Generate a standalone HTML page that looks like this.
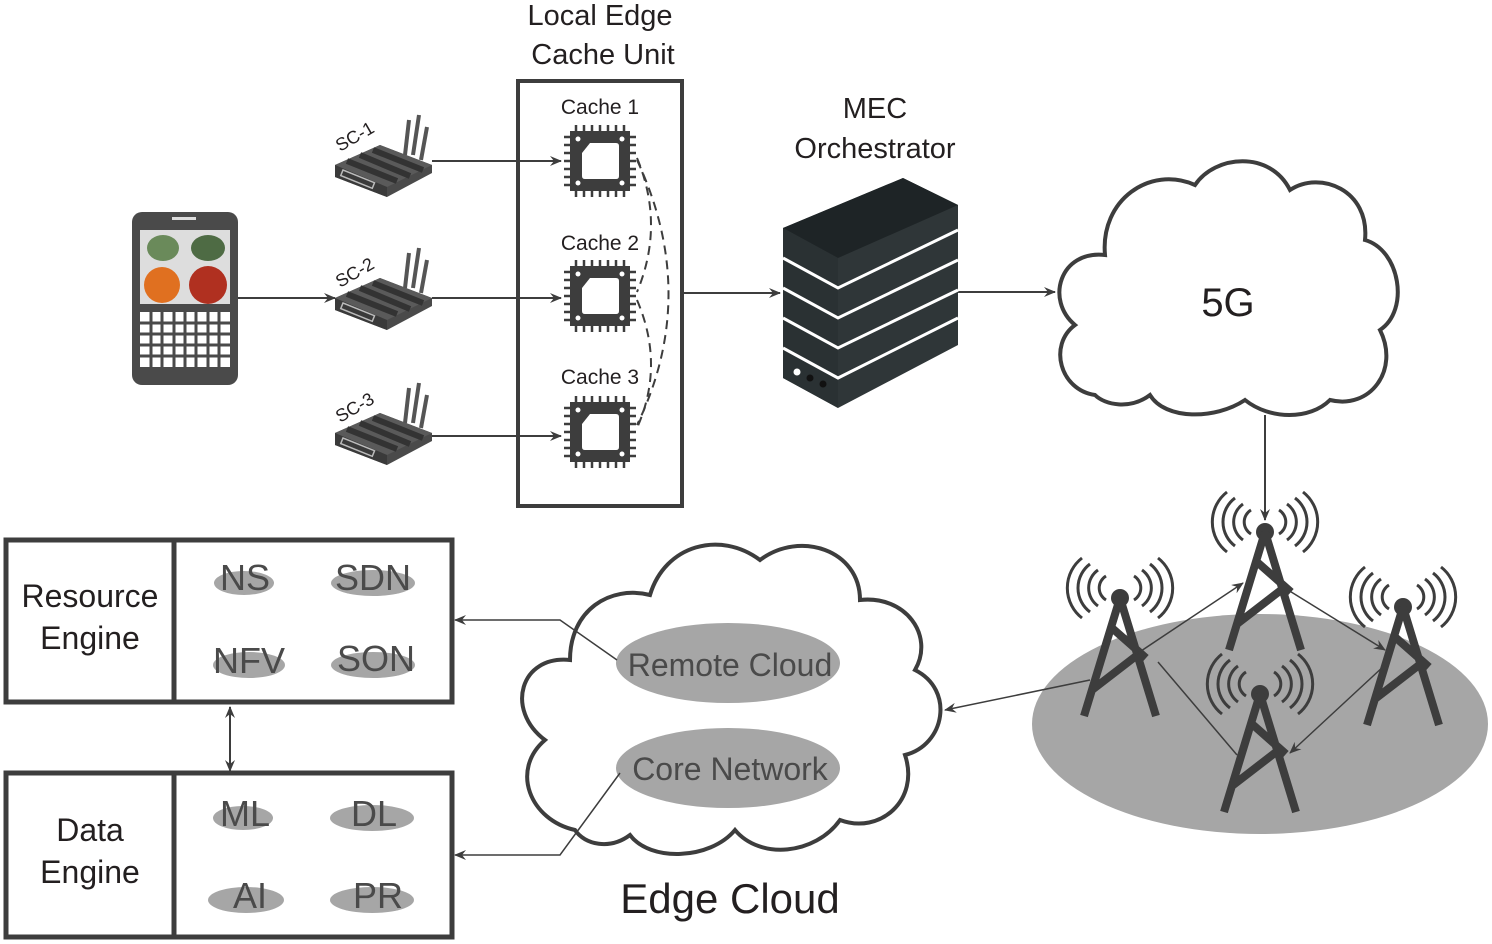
<!DOCTYPE html>
<html><head><style>body{margin:0;background:#fff}svg{display:block}text{font-family:"Liberation Sans",sans-serif;fill:#231f20}</style></head><body>
<svg width="1492" height="944" viewBox="0 0 1492 944" xmlns="http://www.w3.org/2000/svg">
<defs>
<marker id="a" markerWidth="12" markerHeight="10" refX="11" refY="5" orient="auto" markerUnits="userSpaceOnUse"><path d="M0,0 L12,5 L0,10 L4,5Z" fill="#3d3d3d"/></marker>
<marker id="as" markerWidth="12" markerHeight="10" refX="1" refY="5" orient="auto" markerUnits="userSpaceOnUse"><path d="M12,0 L0,5 L12,10 L8,5Z" fill="#3d3d3d"/></marker>
<g id="router">
<line x1="70" y1="40" x2="74" y2="5" stroke="#555" stroke-width="4"/><line x1="78" y1="40" x2="84" y2="0" stroke="#555" stroke-width="4"/><line x1="86" y1="45" x2="92" y2="12" stroke="#555" stroke-width="4"/>
<path d="M0,50 L45,30 L97,50 L97,58 L52,82 L0,62Z" fill="#4a4a4a"/>
<path d="M0,50 L52,72 L97,50 L45,30Z" fill="#5a5a5a"/>
<path d="M12,46 L62,66 M25,40 L75,61 M38,35 L88,55" stroke="#333" stroke-width="6"/>
<path d="M0,50 L52,72 L52,82 L0,62Z" fill="#3a3a3a"/>
<rect x="8" y="55" width="34" height="6" fill="none" stroke="#bbb" stroke-width="1.5" transform="rotate(22 8 55)"/>
</g>
<g id="chip">
<path d="M-36,-24 H36 M-36,-16 H36 M-36,-8 H36 M-36,0 H36 M-36,8 H36 M-36,16 H36 M-36,24 H36 M-24,-36 V36 M-16,-36 V36 M-8,-36 V36 M0,-36 V36 M8,-36 V36 M16,-36 V36 M24,-36 V36" stroke="#3d3d3d" stroke-width="2.5"/>
<rect x="-30" y="-30" width="60" height="60" fill="#3d3d3d"/>
<path d="M-10,-18 H16 Q19,-18 19,-15 V15 Q19,18 16,18 H-15 Q-18,18 -18,15 V-8Z" fill="#fff"/>
<circle cx="-22" cy="-22" r="2.5" fill="#fff"/><circle cx="22" cy="-22" r="2.5" fill="#fff"/><circle cx="-22" cy="22" r="2.5" fill="#fff"/><circle cx="22" cy="22" r="2.5" fill="#fff"/>
</g>
<g id="tower">
<circle cx="0" cy="0" r="9" fill="#3d3d3d"/>
<path d="M0,0 L-36,118 M0,0 L36,118 M-8,30 L26,60 M20,55 L-28,92" stroke="#3d3d3d" stroke-width="8" fill="none"/>
<path d="M-14,-12 A14,14 0 0 0 -14,12 M14,-12 A14,14 0 0 1 14,12 M-22,-18 A22,22 0 0 0 -22,18 M22,-18 A22,22 0 0 1 22,18 M-30,-24 A30,30 0 0 0 -30,24 M30,-24 A30,30 0 0 1 30,24 M-38,-30 A38,38 0 0 0 -38,30 M38,-30 A38,38 0 0 1 38,30" stroke="#3d3d3d" stroke-width="3" fill="none" transform="translate(0,-10)"/>
</g>
</defs>

<rect x="132" y="212" width="106" height="173" rx="10" fill="#4a4a4a"/>
<rect x="172" y="217" width="24" height="3" fill="#ddd"/>
<rect x="140" y="230" width="90" height="74" fill="#ddd"/>
<ellipse cx="163" cy="248" rx="16" ry="13" fill="#6a8a5a"/><ellipse cx="208" cy="248" rx="17" ry="13" fill="#4e6b44"/>
<circle cx="162" cy="285" r="18" fill="#e07020"/><circle cx="208" cy="285" r="19" fill="#b03020"/>
<rect x="140" y="312" width="90" height="55" fill="#fff"/>
<path d="M140,323 H230 M140,334 H230 M140,345 H230 M140,356 H230 M151,312 V367 M162,312 V367 M174,312 V367 M185,312 V367 M196,312 V367 M208,312 V367 M219,312 V367" stroke="#4a4a4a" stroke-width="3"/>

<use href="#router" x="335" y="115"/><use href="#router" x="335" y="248"/><use href="#router" x="335" y="383"/>
<text x="340" y="152" font-size="18" transform="rotate(-30 340 152)">SC-1</text>
<text x="340" y="288" font-size="18" transform="rotate(-30 340 288)">SC-2</text>
<text x="340" y="423" font-size="18" transform="rotate(-30 340 423)">SC-3</text>

<g stroke="#3d3d3d" stroke-width="2" fill="none">
<line x1="238" y1="298" x2="335" y2="298" marker-end="url(#a)"/>
<line x1="432" y1="161" x2="561" y2="161" marker-end="url(#a)"/>
<line x1="432" y1="298" x2="561" y2="298" marker-end="url(#a)"/>
<line x1="432" y1="436" x2="561" y2="436" marker-end="url(#a)"/>
<line x1="683" y1="293" x2="780" y2="293" marker-end="url(#a)"/>
<line x1="958" y1="292" x2="1055" y2="292" marker-end="url(#a)"/>
<line x1="1265" y1="415" x2="1265" y2="520" marker-end="url(#a)"/>
</g>

<rect x="518" y="81" width="164" height="425" fill="none" stroke="#3d3d3d" stroke-width="4"/>
<text x="600" y="25" font-size="29" text-anchor="middle">Local Edge</text>
<text x="603" y="64" font-size="29" text-anchor="middle">Cache Unit</text>
<text x="600" y="114" font-size="21" text-anchor="middle">Cache 1</text>
<text x="600" y="250" font-size="21" text-anchor="middle">Cache 2</text>
<text x="600" y="384" font-size="21" text-anchor="middle">Cache 3</text>
<use href="#chip" x="600" y="161"/><use href="#chip" x="600" y="296"/><use href="#chip" x="600" y="432"/>
<g stroke="#3d3d3d" stroke-width="2" fill="none" stroke-dasharray="9,6">
<path d="M637,158 Q665,225 637,292"/><path d="M637,300 Q665,365 637,428"/><path d="M637,160 Q700,295 637,425"/>
</g>

<text x="875" y="118" font-size="29" text-anchor="middle">MEC</text>
<text x="875" y="158" font-size="29" text-anchor="middle">Orchestrator</text>
<path d="M783,228 L903,178 L958,205 L958,345 L838,408 L783,378Z" fill="#2f3638"/>
<path d="M783,228 L903,178 L958,205 L838,258Z" fill="#1e2426"/>
<path d="M783,228 L838,258 L838,408 L783,378Z" fill="#2a3133"/>
<g stroke="#fff" stroke-width="3" fill="none">
<path d="M783,258 L838,288 L958,230"/><path d="M783,288 L838,318 L958,260"/><path d="M783,318 L838,348 L958,290"/><path d="M783,348 L838,378 L958,318"/>
</g>
<circle cx="797" cy="372" r="3.5" fill="#fff"/><circle cx="810" cy="378" r="3.5" fill="#111"/><circle cx="823" cy="384" r="3.5" fill="#111"/>

<path d="M1095,395 C1060,390 1048,345 1075,325 C1045,300 1060,250 1105,255 C1100,200 1150,165 1195,185 C1215,155 1270,150 1290,190 C1320,170 1370,190 1365,240 C1400,250 1410,310 1380,330 C1400,370 1370,410 1330,400 C1310,420 1270,420 1245,400 C1215,420 1165,420 1150,395 C1130,410 1105,405 1095,395Z" fill="#fff" stroke="#3d3d3d" stroke-width="4"/>
<text x="1228" y="316" font-size="40" text-anchor="middle">5G</text>

<ellipse cx="1260" cy="724" rx="228" ry="110" fill="#a6a6a6"/>
<use href="#tower" x="1265" y="532"/><use href="#tower" x="1120" y="598"/><use href="#tower" x="1403" y="607"/><use href="#tower" x="1260" y="694"/>
<g stroke="#3d3d3d" stroke-width="1.5" fill="none">
<line x1="1135" y1="655" x2="1243" y2="583" marker-end="url(#a)"/>
<line x1="1288" y1="590" x2="1385" y2="650" marker-end="url(#a)"/>
<line x1="1385" y1="665" x2="1290" y2="753" marker-end="url(#a)"/>
<line x1="1237" y1="755" x2="1158" y2="662"/>
<line x1="1090" y1="680" x2="945" y2="710" marker-end="url(#a)"/>
</g>

<path d="M575,830 C530,820 510,770 545,740 C505,710 520,655 570,660 C570,610 610,585 650,595 C665,545 720,530 760,560 C800,530 860,550 860,600 C905,595 935,635 915,670 C955,690 945,745 905,755 C920,800 880,835 840,820 C815,855 760,860 735,830 C710,860 650,862 630,835 C610,850 585,845 575,830Z" fill="#fff" stroke="#3d3d3d" stroke-width="4"/>
<ellipse cx="728" cy="663" rx="112" ry="40" fill="#a6a6a6"/>
<ellipse cx="728" cy="768" rx="112" ry="40" fill="#a6a6a6"/>
<text x="730" y="676" font-size="32" text-anchor="middle" style="fill:#4a4a4a">Remote Cloud</text>
<text x="730" y="780" font-size="32" text-anchor="middle" style="fill:#4a4a4a">Core Network</text>
<text x="730" y="913" font-size="42" text-anchor="middle">Edge Cloud</text>
<g stroke="#3d3d3d" stroke-width="1.5" fill="none">
<polyline points="617,660 560,620 455,620" marker-end="url(#a)"/>
<polyline points="620,773 560,855 455,855" marker-end="url(#a)"/>
<line x1="230" y1="707" x2="230" y2="771" marker-start="url(#as)" marker-end="url(#a)" stroke-width="2"/>
</g>

<g fill="none" stroke="#3d3d3d" stroke-width="5">
<rect x="6" y="540" width="446" height="162"/><line x1="174" y1="540" x2="174" y2="702"/>
<rect x="6" y="773" width="446" height="164"/><line x1="174" y1="773" x2="174" y2="937"/>
</g>
<text x="90" y="607" font-size="32" text-anchor="middle">Resource</text>
<text x="90" y="649" font-size="32" text-anchor="middle">Engine</text>
<text x="90" y="841" font-size="32" text-anchor="middle">Data</text>
<text x="90" y="883" font-size="32" text-anchor="middle">Engine</text>
<g fill="#a6a6a6">
<ellipse cx="244" cy="583" rx="30" ry="12"/><ellipse cx="373" cy="583" rx="42" ry="13"/>
<ellipse cx="249" cy="665" rx="36" ry="13"/><ellipse cx="373" cy="665" rx="42" ry="13"/>
<ellipse cx="243" cy="818" rx="30" ry="12"/><ellipse cx="372" cy="818" rx="42" ry="13"/>
<ellipse cx="246" cy="900" rx="38" ry="13"/><ellipse cx="372" cy="900" rx="42" ry="13"/>
</g>
<g font-size="36" text-anchor="middle">
<text x="245" y="590" style="fill:#4a4a4a">NS</text><text x="373" y="590" style="fill:#4a4a4a">SDN</text>
<text x="249" y="673" style="fill:#4a4a4a">NFV</text><text x="376" y="671" style="fill:#4a4a4a">SON</text>
<text x="245" y="826" style="fill:#4a4a4a">ML</text><text x="374" y="826" style="fill:#4a4a4a">DL</text>
<text x="250" y="908" style="fill:#4a4a4a">AI</text><text x="378" y="908" style="fill:#4a4a4a">PR</text>
</g>
</svg>
</body></html>
